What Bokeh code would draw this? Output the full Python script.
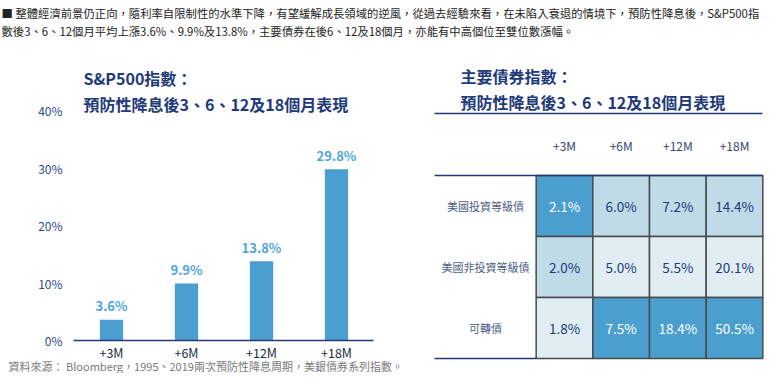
from bokeh.plotting import figure
from bokeh.layouts import column, row
from bokeh.models import Range1d, FixedTicker, ColumnDataSource
from bokeh.core.properties import value
from bokeh.embed import file_html
from bokeh.resources import INLINE

# ---------------- data ----------------
header_lines = [
    "■ 整體經濟前景仍正向，隨利率自限制性的水準下降，有望緩解成長領域的逆風，從過去經驗來看，在未陷入衰退的情境下，預防性降息後，S&P500指",
    "數後3、6、12個月平均上漲3.6%、9.9%及13.8%，主要債券在後6、12及18個月，亦能有中高個位至雙位數漲幅。",
]
footer_text = "資料來源： Bloomberg，1995、2019兩次預防性降息周期，美銀債券系列指數。"

periods = ["+3M", "+6M", "+12M", "+18M"]
sp500_returns = [3.6, 9.9, 13.8, 29.8]
sp_title = ["S&P500指數：", "預防性降息後3、6、12及18個月表現"]
y_ticks = [0, 10, 20, 30, 40]

bond_title = ["主要債券指數：", "預防性降息後3、6、12及18個月表現"]
bond_names = ["美國投資等級債", "美國非投資等級債", "可轉債"]
bond_ig = [2.1, 6.0, 7.2, 14.4]
bond_hy = [2.0, 5.0, 5.5, 20.1]
bond_cv = [1.8, 7.5, 18.4, 50.5]
shade_ig = [2, 1, 1, 1]
shade_hy = [1, 0, 0, 0]
shade_cv = [0, 2, 2, 2]

FONT = "Noto Sans CJK TC"
NAVY = "#22397a"
BAR = "#4a9fd0"
shade_fill = {0: "#e0eef3", 1: "#bedbe7", 2: "#4a9fcf"}
shade_text = {0: "#22397a", 1: "#22397a", 2: "#ffffff"}

W = 764
H_HEAD = 44
H_MAIN = 329


def base(width, height, xr, yr):
    p = figure(width=width, height=height, x_range=xr, y_range=yr,
               output_backend="svg", toolbar_location=None, title=None,
               min_border=0)
    p.outline_line_color = None
    p.grid.visible = False
    p.background_fill_color = "white"
    p.border_fill_color = "white"
    return p


# ---------------- header ----------------
hp = base(W, H_HEAD, Range1d(0, W), Range1d(H_HEAD, 0))
hp.axis.visible = False
hp.text(x=[1, 1], y=[12, 30], text=header_lines, text_font=value(FONT),
        text_font_size="11.35px", text_color="#222222", text_baseline="middle")

# ---------------- bar chart ----------------
PX = 5.75     # pixels per percentage point
BW = 75.0     # pixels per category
XC = 111.0    # fig x of first bar centre
Y0 = 296.0    # fig y of the 0% line
AX_L, AX_R = 73.0, 373.0   # extent of the category axis in fig px
xr = Range1d(-XC / BW, (420 - XC) / BW)
yr = Range1d(-(H_MAIN - Y0) / PX, Y0 / PX)
bp = base(420, H_MAIN, xr, yr)
xs = list(range(len(periods)))
src = ColumnDataSource(dict(x=xs, top=sp500_returns,
                            lab=[f"{v:.1f}%" for v in sp500_returns]))
bp.vbar(x="x", top="top", width=0.31, source=src, fill_color=BAR, line_color=None)
bp.text(x="x", y="top", text="lab", source=src, text_align="center",
        text_baseline="middle", y_offset=-14, text_font=value(FONT),
        text_font_size="13px", text_font_style="bold", text_color="#4ea6da")
bp.text(x=[(83 - XC) / BW] * 2, y=[(Y0 - 33) / PX, (Y0 - 59) / PX], text=sp_title,
        text_font=value(FONT), text_font_size="16px", text_font_style="bold",
        text_color=NAVY, text_baseline="middle")
bp.text(x=[(8 - XC) / BW], y=[(Y0 - 321) / PX], text=[footer_text],
        text_font=value(FONT), text_font_size="11px", text_color="#7a7a7a",
        text_baseline="middle")

bp.yaxis.fixed_location = (AX_L - XC) / BW
bp.yaxis.ticker = FixedTicker(ticks=y_ticks)
bp.yaxis.major_label_overrides = {t: f"{t}%" for t in y_ticks}
bp.yaxis.axis_line_color = None
bp.yaxis.major_tick_line_color = None
bp.yaxis.minor_tick_line_color = None
bp.yaxis.major_tick_out = 0
bp.yaxis.major_tick_in = 0
bp.yaxis.major_label_standoff = 11
bp.yaxis.major_label_text_font = FONT
bp.yaxis.major_label_text_font_size = "12px"
bp.yaxis.major_label_text_color = "#2b4a8a"

bp.xaxis.fixed_location = 0
bp.xaxis.bounds = ((AX_L - XC) / BW, (AX_R - XC) / BW)
bp.xaxis.ticker = FixedTicker(ticks=xs)
bp.xaxis.major_label_overrides = {i: periods[i] for i in xs}
bp.xaxis.axis_line_color = NAVY
bp.xaxis.axis_line_width = 1.5
bp.xaxis.major_tick_line_color = None
bp.xaxis.minor_tick_line_color = None
bp.xaxis.major_tick_out = 0
bp.xaxis.major_tick_in = 0
bp.xaxis.major_label_standoff = 2
bp.xaxis.major_label_text_font = FONT
bp.xaxis.major_label_text_font_size = "12.5px"
bp.xaxis.major_label_text_color = "#1e2a44"

# ---------------- table ----------------
cw = 56.67
rh = 61.0
x0 = 144.0    # fig x of first value column centre
y0 = 161.5    # fig y of first row centre
tx = Range1d(-x0 / cw, (344 - x0) / cw)
ty = Range1d((H_MAIN - y0) / rh, -y0 / rh)
tp = base(344, H_MAIN, tx, ty)
tp.axis.visible = False

rows_vals = [bond_ig, bond_hy, bond_cv]
rows_shade = [shade_ig, shade_hy, shade_cv]
cx, cy, fills, tcols, labs = [], [], [], [], []
for j, (vals, sh) in enumerate(zip(rows_vals, rows_shade)):
    for i, (v, s) in enumerate(zip(vals, sh)):
        cx.append(i)
        cy.append(j)
        fills.append(shade_fill[s])
        tcols.append(shade_text[s])
        labs.append(f"{v:.1f}%")
csrc = ColumnDataSource(dict(x=cx, y=cy, fill=fills, tc=tcols, lab=labs))
tp.rect(x="x", y="y", width=1, height=1, source=csrc, fill_color="fill",
        line_color="#4a4a4a", line_width=1.5)
tp.text(x="x", y="y", text="lab", text_color="tc", source=csrc,
        text_align="center", text_baseline="middle", text_font=value(FONT),
        text_font_size="13.5px")

left = (14 - x0) / cw
right = (342 - x0) / cw
tp.segment(x0=[left, left, left], y0=[(69 - y0) / rh, -0.5, 2.5],
           x1=[right, right, -0.5], y1=[(69 - y0) / rh, -0.5, 2.5],
           line_color=NAVY, line_width=1.6)
tp.text(x=list(range(len(periods))), y=[(101 - y0) / rh] * 4, text=periods,
        text_align="center", text_baseline="middle", text_font=value(FONT),
        text_font_size="12px", text_color="#34466e")
tp.text(x=[(65 - x0) / cw] * 3, y=list(range(len(bond_names))), text=bond_names,
        text_align="center", text_baseline="middle", text_font=value(FONT),
        text_font_size="11px", text_color="#4d5e86")
tp.text(x=[(40 - x0) / cw] * 2, y=[(31 - y0) / rh, (57 - y0) / rh], text=bond_title,
        text_font=value(FONT), text_font_size="16px", text_font_style="bold",
        text_color=NAVY, text_baseline="middle")

layout = column(hp, row(bp, tp))
open("out.html", "w").write(file_html(layout, INLINE))
